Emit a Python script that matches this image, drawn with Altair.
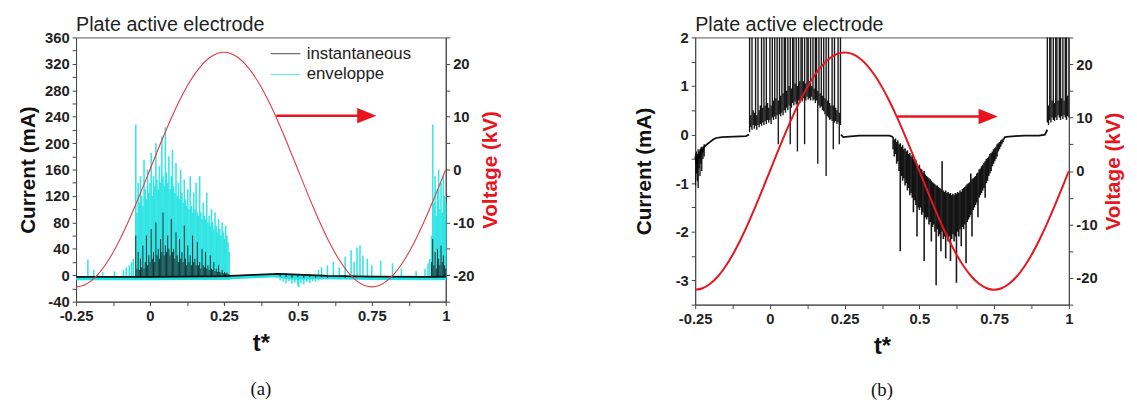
import altair as alt
import pandas as pd

RED = "#e8141e"
RED_A = "#e23a40"
CYAN = "#22e2e2"
BLACK = "#111111"
FONT = "Liberation Sans"

# ---------------- data ----------------
# applied voltage, sampled every 0.025 of t* starting at -0.25
volt_t0 = -0.25
volt_dt = 0.025
voltage_kv = [-22.2, -21.93, -21.11, -19.78, -17.96, -15.70, -13.05, -10.08, -6.86, -3.47,
              0.0, 3.47, 6.86, 10.08, 13.05, 15.70, 17.96, 19.78, 21.11, 21.93,
              22.2, 21.93, 21.11, 19.78, 17.96, 15.70, 13.05, 10.08, 6.86, 3.47,
              0.0, -3.47, -6.86, -10.08, -13.05, -15.70, -17.96, -19.78, -21.11, -21.93,
              -22.2, -21.93, -21.11, -19.78, -17.96, -15.70, -13.05, -10.08, -6.86, -3.47, 0.0]

# ---- panel (a): current in mA ----
a_base_t = [-0.25, 0.0, 0.25, 0.35, 0.43, 0.5, 0.6, 0.75, 0.95, 1.0]
a_base_ma = [-2.5, -2.5, -1.5, 0.5, 2.0, 1.0, -1.0, -2.0, -2.5, -2.0]

a_burst_dt = 0.004
a_burst1_t0 = -0.048
a_burst1_env = [228, 95, 140, 110, 150, 120, 105, 175, 130, 115,
                160, 125, 140, 185, 120, 150, 135, 200, 145, 130,
                165, 140, 210, 150, 135, 224, 155, 140, 180, 130,
                150, 190, 135, 125, 170, 120, 140, 115, 160, 125,
                110, 145, 115, 105, 130, 100, 150, 105, 95, 125,
                100, 140, 95, 90, 150, 95, 85, 110, 90, 85,
                125, 80, 90, 75, 100, 80, 70, 95, 75, 65,
                85, 70, 60, 80, 65, 55, 75, 60, 50, 35]
a_burst1_inst = [60, 10, 35, 8, 25, 12, 45, 10, 20, 60,
                 15, 30, 20, 70, 25, 35, 20, 80, 30, 40,
                 25, 55, 35, 95, 30, 45, 35, 60, 40, 30,
                 85, 35, 40, 25, 65, 30, 20, 55, 25, 35,
                 20, 75, 25, 15, 45, 20, 30, 15, 60, 20,
                 25, 15, 50, 15, 20, 10, 40, 15, 12, 35,
                 10, 15, 8, 30, 10, 8, 20, 6, 10, 5,
                 15, 5, 4, 8, 3, 5, 3, 4, 2, 1]
a_burst2_t0 = 0.952
a_burst2_env = [60, 228, 110, 150, 90, 130, 160, 100, 140, 95, 150, 120, 110]
a_burst2_inst = [20, 55, 15, 35, 10, 40, 25, 15, 45, 20, 30, 15, 10]
a_env_low = -7
a_inst_low = -3

a_spike_t = [-0.21, -0.19, -0.16, -0.12, -0.09, -0.08, -0.07, -0.062, -0.056,
             0.57, 0.58, 0.60, 0.62, 0.64, 0.66, 0.68, 0.69, 0.70, 0.71, 0.72,
             0.735, 0.75, 0.78, 0.82, 0.85, 0.90, 0.93, 0.94, 0.946]
a_spike_top = [24, 8, 5, 6, 8, 12, 15, 20, 25,
               8, 12, 15, 20, 12, 28, 38, 20, 42, 45, 30,
               25, 15, 22, 18, 10, 6, 10, 18, 25]

a_neg_t = [0.43, 0.44, 0.45, 0.46, 0.47, 0.48, 0.49, 0.50, 0.503, 0.51,
           0.52, 0.53, 0.54, 0.55, 0.56, 0.57, 0.58, 0.60, 0.62, 0.65]
a_neg_low = [-4, -8, -10, -12, -9, -13, -11, -16, -18, -12,
             -14, -10, -12, -9, -10, -8, -7, -6, -5, -4]

a_band_t = [0.42, 0.45, 0.48, 0.52, 0.56, 0.60, 0.64, 0.68]
a_band_lo = [0, -5, -7, -7, -6, -5, -4, -3]
a_band_hi = [2, 3, 2, 1, 0, -1, -1, -1]

a_noise_t = [0.44, 0.46, 0.48, 0.50, 0.52, 0.54, 0.56, 0.58, 0.60, 0.62, 0.64, 0.66, 0.68, 0.70]
a_noise_lo = [-2, -3, -4, -3, -4, -3, -4, -3, -4, -3, -3, -4, -3, -3]
a_noise_hi = [3, 3, 2, 2, 1, 1, 0, 1, 0, 0, -1, 0, -1, -1]

# ---- panel (b): current in mA ----
b_base_t = [-0.25, -0.245, -0.24, -0.235, -0.23, -0.225, -0.22, -0.21, -0.2, -0.19,
            -0.18, -0.16, -0.12, -0.08, -0.07,
            0.238, 0.245, 0.26, 0.3, 0.35, 0.4, 0.412,
            0.784, 0.8, 0.85, 0.9, 0.92, 0.928]
b_base_ma = [-0.45, -0.6, -0.4, -0.5, -0.3, -0.35, -0.25, -0.2, -0.15, -0.1,
             -0.07, -0.05, -0.04, -0.03, 0.0,
             0.0, -0.05, -0.04, -0.02, -0.02, -0.02, -0.05,
             -0.05, -0.04, -0.02, -0.02, 0.0, 0.1]
b_base_seg = [1, 1, 1, 1, 1, 1, 1, 1, 1, 1, 1, 1, 1, 1, 1,
              2, 2, 2, 2, 2, 2, 2,
              3, 3, 3, 3, 3, 3]

b_start_t = [-0.249, -0.246, -0.243, -0.240, -0.237, -0.234, -0.231, -0.228, -0.224, -0.220]
b_start_lo = [-1.05, -0.8, -0.95, -1.1, -0.7, -0.85, -0.6, -0.75, -0.5, -0.45]
b_start_hi = [-0.4, -0.35, -0.45, -0.3, -0.35, -0.3, -0.3, -0.25, -0.25, -0.2]

b_dt = 0.004
b_burst1_t0 = -0.068
b_burst1_lo = [0.05, 0.15, 0.1, 0.2, 0.12, 0.18, 0.1, 0.2, 0.15, 0.22,
               0.18, 0.25, 0.2, 0.28, 0.22, 0.3, 0.25, 0.3, 0.22, 0.35,
               0.3, 0.38, 0.32, 0.4, -0.2, 0.42, 0.38, 0.45, 0.4, 0.5,
               0.45, 0.55, 0.5, 0.6, -0.2, 0.55, 0.65, 0.6, 0.68, 0.62,
               -0.35, 0.7, 0.65, 0.72, 0.68, 0.75, -0.2, 0.7, 0.78, 0.72,
               0.75, 0.7, 0.78, 0.7, 0.72, 0.65, 0.7, -0.6, 0.6, 0.55,
               0.58, 0.5, 0.48, 0.42, -0.85, 0.38, 0.35, 0.3, 0.32, 0.28,
               -0.3, 0.25, 0.28, 0.22, 0.25, -0.2, 0.2]
b_burst1_hi = [2.5, 0.4, 2.5, 0.5, 0.45, 2.5, 0.4, 2.5, 0.5, 0.6,
               2.5, 0.55, 2.5, 0.6, 2.5, 0.65, 0.55, 2.5, 0.6, 2.5,
               0.7, 2.5, 0.75, 2.5, 0.7, 2.5, 0.8, 2.5, 0.85, 2.5,
               2.5, 0.9, 2.5, 1.0, 2.5, 0.95, 2.5, 2.5, 1.05, 2.5,
               1.0, 2.5, 1.1, 2.5, 2.5, 1.1, 2.5, 1.05, 2.5, 2.5,
               1.1, 2.5, 1.0, 2.5, 0.95, 2.5, 2.5, 0.9, 2.5, 0.85,
               2.5, 0.8, 2.5, 0.75, 2.5, 0.7, 2.5, 0.65, 0.6, 2.5,
               0.6, 2.5, 0.55, 0.5, 2.5, 0.45, 2.5]

b_neg_t0 = 0.412
b_neg_hi = [-0.05, -0.1, -0.08, -0.15, -0.12, -0.2, -0.18, -0.25, -0.22, -0.3,
            -0.28, -0.35, -0.32, -0.4, -0.38, -0.45, -0.42, -0.5, -0.55, -0.52,
            -0.6, -0.65, -0.62, -0.7, -0.72, -0.78, -0.75, -0.82, -0.85, -0.88,
            -0.9, -0.92, -0.95, -0.98, -1.0, -1.02, -1.05, -1.05, -1.08, -1.1,
            -1.12, -0.55, -1.15, -1.18, -1.15, -1.2, -1.18, -1.22, -1.2, -1.25,
            -1.22, -1.25, -1.2, -1.22, -1.18, -1.2, -1.15, -1.18, -1.12, -1.1,
            -1.08, -1.05, -1.02, -1.0, -0.98, -0.8, -0.92, -0.9, -0.88, -0.85,
            -0.8, -0.78, -0.72, -0.7, -0.65, -0.62, -0.58, -0.55, -0.5, -0.48,
            -0.45, -0.4, -0.38, -0.35, -0.3, -0.28, -0.25, -0.2, -0.18, -0.15,
            -0.12, -0.1, -0.08, -0.05]
b_neg_lo = [-0.3, -0.45, -0.4, -0.6, -0.55, -0.75, -2.4, -0.85, -0.95, -0.9,
            -1.05, -1.0, -1.15, -1.1, -1.25, -1.2, -1.3, -1.6, -1.35, -1.45,
            -2.1, -1.5, -1.55, -1.5, -1.65, -1.6, -2.6, -1.7, -1.75, -1.7,
            -1.85, -1.8, -2.2, -1.9, -1.85, -2.0, -3.1, -1.95, -2.1, -2.05,
            -2.4, -2.0, -2.15, -2.1, -2.55, -2.05, -2.2, -2.1, -2.6, -2.15,
            -2.05, -2.2, -2.1, -3.05, -2.0, -2.1, -1.95, -2.3, -1.9, -1.95,
            -1.85, -2.65, -1.8, -1.75, -1.7, -1.65, -2.1, -1.55, -1.5, -1.45,
            -1.4, -1.7, -1.3, -1.25, -1.2, -1.15, -1.1, -1.3, -1.0, -0.95,
            -0.85, -0.8, -0.75, -0.65, -0.6, -0.55, -0.5, -0.45, -0.35, -0.3,
            -0.25, -0.2, -0.15, -0.1]

b_burst2_t0 = 0.928
b_burst2_lo = [0.25, 0.2, 0.3, 0.25, 0.35, 0.3, 0.28, 0.35, 0.3, 0.4,
               0.35, 0.3, 0.38, 0.32, 0.4, 0.35, 0.3, 0.38, 0.35]
b_burst2_hi = [2.5, 0.6, 2.5, 2.5, 0.7, 2.5, 0.65, 2.5, 2.5, 0.7,
               2.5, 2.5, 0.75, 2.5, 0.7, 2.5, 2.5, 0.8, 2.5]

# arrows pointing to the voltage axis (t* start, t* end, voltage level)
arrow_a = {"t0": [0.427], "t1": [0.733], "v": [10.2]}
arrow_b = {"t0": [0.426], "t1": [0.73], "v": [10.2]}

series_names = ["instantaneous", "enveloppe"]
captions = ["(a)", "(b)"]
title_text = "Plate active electrode"

t_ticks = [-0.25, -0.125, 0, 0.125, 0.25, 0.375, 0.5, 0.625, 0.75, 0.875, 1.0]
cur_a_ticks = list(range(-40, 361, 20))
cur_b_ticks = [-3.5, -3, -2.5, -2, -1.5, -1, -0.5, 0, 0.5, 1, 1.5, 2]
volt_ticks = [-25, -20, -15, -10, -5, 0, 5, 10, 15, 20, 25]


# ---------------- helpers ----------------
def grid(t0, dt, n):
    return [round(t0 + i * dt, 4) for i in range(n)]


def signed(fmt):
    return f"(datum.value < 0 ? '-' : '') + format(abs(datum.value), '{fmt}')"


LABEL_STYLE = dict(labelFont=FONT, labelFontWeight="bold", labelFontSize=15, labelColor="#222",
                   tickSize=4, tickColor="#444", domainColor="#444", grid=False, labelFlush=False)

T_MAJOR = "abs(datum.value*4 - round(datum.value*4)) < 0.001"
T_AXIS = alt.Axis(values=t_ticks, title="t*", labelExpr=f"{T_MAJOR} ? {signed('~g')} : ''",
                  titleFontSize=24, titlePadding=9, labelPadding=3, **LABEL_STYLE)


def x_enc(field="t"):
    return alt.X(f"{field}:Q", scale=alt.Scale(domain=[-0.25, 1], nice=False, zero=False),
                 axis=T_AXIS)


def y_axis(values, major, title, orient="left", color="#111", tpad=6):
    extra = {}
    if orient == "right":
        extra = dict(titleAngle=270, titleBaseline="top")
    return alt.Axis(values=values, title=title, orient=orient,
                    labelExpr=f"{major} ? {signed('d')} : ''",
                    titleColor=color, titleFontSize=21, titleFont=FONT, titleFontWeight="bold",
                    titlePadding=tpad, labelPadding=3, **extra, **LABEL_STYLE)


A_MAJOR = "datum.value % 40 === 0"
B_MAJOR = "abs(datum.value - round(datum.value)) < 0.001"
V_MAJOR = "datum.value % 10 === 0"


def ya(field):
    return alt.Y(f"{field}:Q", scale=alt.Scale(domain=[-40, 360], nice=False, zero=False),
                 axis=y_axis(cur_a_ticks, A_MAJOR, "Current (mA)"))


def yb(field):
    return alt.Y(f"{field}:Q", scale=alt.Scale(domain=[-3.5, 2], nice=False, zero=False),
                 axis=y_axis(cur_b_ticks, B_MAJOR, "Current (mA)", tpad=21))


def yv(field):
    return alt.Y(f"{field}:Q", scale=alt.Scale(domain=[-25, 25], nice=False, zero=False),
                 axis=y_axis(volt_ticks, V_MAJOR, "Voltage (kV)", orient="right", color=RED))


color_enc = alt.Color("series:N",
                      scale=alt.Scale(domain=series_names, range=[BLACK, CYAN]),
                      legend=alt.Legend(orient="none", legendX=204, legendY=8, title=None,
                                        symbolType="M-2,0L2,0", symbolSize=225, symbolStrokeWidth=1,
                                        symbolOpacity=0.75,
                                        labelFont=FONT, labelFontSize=17, labelColor="#222",
                                        labelOffset=13, rowPadding=3, padding=0))

# ---------------- tables ----------------
volt_df = pd.DataFrame({"t": grid(volt_t0, volt_dt, len(voltage_kv)), "v": voltage_kv})

a_base_df = pd.DataFrame({"t": a_base_t, "ma": a_base_ma})
env_t = grid(a_burst1_t0, a_burst_dt, len(a_burst1_env)) + grid(a_burst2_t0, a_burst_dt, len(a_burst2_env))
env_hi = a_burst1_env + a_burst2_env
a_env_df = pd.DataFrame({"t": env_t + a_spike_t + a_neg_t,
                         "lo": [a_env_low] * len(env_t) + [a_inst_low] * len(a_spike_t) + a_neg_low,
                         "hi": env_hi + a_spike_top + [1] * len(a_neg_t),
                         "series": "enveloppe"})
inst_t = grid(a_burst1_t0, a_burst_dt, len(a_burst1_inst)) + grid(a_burst2_t0, a_burst_dt, len(a_burst2_inst))
a_inst_df = pd.DataFrame({"t": inst_t + a_noise_t,
                          "lo": [a_inst_low] * len(inst_t) + a_noise_lo,
                          "hi": a_burst1_inst + a_burst2_inst + a_noise_hi,
                          "series": "instantaneous"})
a_band_df = pd.DataFrame({"t": a_band_t, "lo": a_band_lo, "hi": a_band_hi})

b_base_df = pd.DataFrame({"t": b_base_t, "ma": b_base_ma, "seg": b_base_seg})
b_rules_df = pd.DataFrame({
    "t": b_start_t + grid(b_burst1_t0, b_dt, len(b_burst1_lo)) + grid(b_burst2_t0, b_dt, len(b_burst2_lo)),
    "lo": b_start_lo + b_burst1_lo + b_burst2_lo,
    "hi": b_start_hi + b_burst1_hi + b_burst2_hi})
n_neg = min(len(b_neg_lo), len(b_neg_hi))
b_neg_df = pd.DataFrame({"t": grid(b_neg_t0, b_dt, n_neg),
                         "lo": b_neg_lo[:n_neg], "hi": b_neg_hi[:n_neg]})

ARROW_PATH = "M-1,-0.8L1,0L-1,0.8Z"


def voltage_group(width_line, color, arrow):
    adf = pd.DataFrame(arrow)
    line = alt.Chart(volt_df).mark_line(color=color, strokeWidth=width_line, interpolate="monotone",
                                        clip=True).encode(x=x_enc("t"), y=yv("v"))
    shaft = alt.Chart(adf).mark_rule(color=RED, strokeWidth=2.5).encode(
        x=x_enc("t0"), x2="t1:Q", y=yv("v"))
    head = alt.Chart(adf).mark_point(shape=ARROW_PATH, filled=True, size=380, color=RED,
                                     opacity=1).encode(x=x_enc("t1"), y=yv("v"))
    return alt.layer(line, shaft, head)


title_p = alt.TitleParams(title_text, anchor="start", frame="group", font=FONT, fontSize=20,
                          fontWeight="normal", color="#222", offset=0, dy=4)

# ---------------- panel (a) ----------------
a_cur = alt.layer(
    alt.Chart(a_band_df).mark_area(color=CYAN, opacity=0.9).encode(x=x_enc("t"), y=ya("lo"), y2="hi:Q"),
    alt.Chart(a_base_df).mark_line(color=CYAN, strokeWidth=4, yOffset=1.5).encode(x=x_enc("t"), y=ya("ma")),
    alt.Chart(a_env_df).mark_rule(strokeWidth=1.6, opacity=0.9).encode(
        x=x_enc("t"), y=ya("lo"), y2="hi:Q", color=color_enc),
    alt.Chart(a_inst_df).mark_rule(strokeWidth=1, opacity=0.85).encode(
        x=x_enc("t"), y=ya("lo"), y2="hi:Q", color=color_enc),
    alt.Chart(a_base_df).mark_line(color=BLACK, strokeWidth=1.8).encode(x=x_enc("t"), y=ya("ma")),
)
panel_a = alt.layer(a_cur, voltage_group(1.1, RED_A, arrow_a)).resolve_scale(y="independent").properties(
    width=375, height=268, title=title_p)

# ---------------- panel (b) ----------------
b_cur = alt.layer(
    alt.Chart(b_base_df).mark_line(color=BLACK, strokeWidth=1.8).encode(
        x=x_enc("t"), y=yb("ma"), detail="seg:N"),
    alt.Chart(b_rules_df).mark_rule(color="#000", strokeWidth=1.4, opacity=0.9, clip=True).encode(
        x=x_enc("t"), y=yb("lo"), y2="hi:Q"),
    alt.Chart(b_neg_df).mark_rule(color="#000", strokeWidth=1.6, opacity=0.9, clip=True).encode(
        x=x_enc("t"), y=yb("lo"), y2="hi:Q"),
)
panel_b = alt.layer(b_cur, voltage_group(2, RED, arrow_b)).resolve_scale(y="independent").properties(
    width=379, height=271, title=title_p)


def caption(label, width):
    return alt.Chart(pd.DataFrame({"label": [label]})).mark_text(
        font="Liberation Serif", fontSize=19, color="#111").encode(text="label:N").properties(
        width=width, height=20, view=alt.ViewBackground(stroke="transparent"))


col_a = alt.vconcat(panel_a, caption(captions[0], 375), spacing=22)
col_b = alt.vconcat(panel_b, caption(captions[1], 379), spacing=20)

chart = alt.hconcat(col_a, col_b, spacing=133).properties(
    padding={"left": 9, "top": 3, "right": 4, "bottom": 4}
).configure_view(stroke="#555", strokeWidth=1).configure_axis(
    titleFont=FONT, titleFontWeight="bold", titleColor="#111")

chart.save("out.html", embed_options={"renderer": "svg", "actions": False})
